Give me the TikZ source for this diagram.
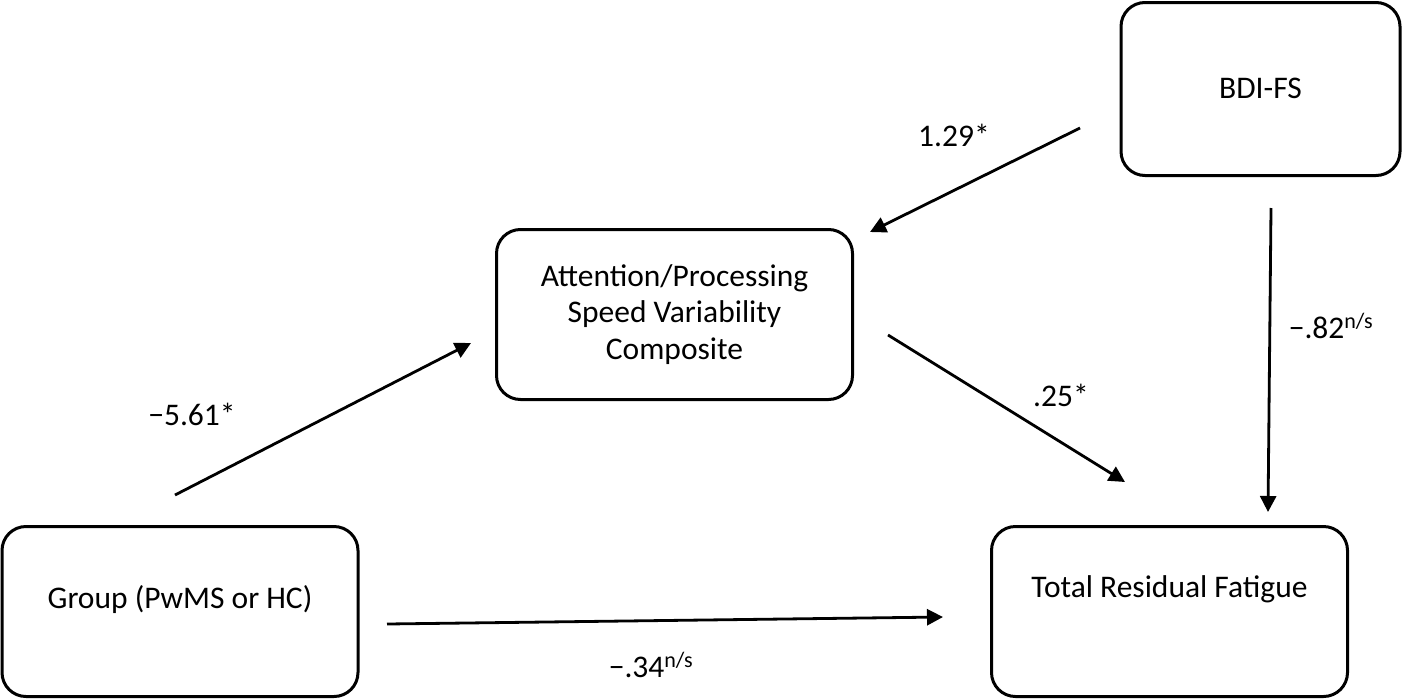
\documentclass[tikz,border=0pt]{standalone}
\usepackage{fontspec}
\setmainfont{Carlito}
\usetikzlibrary{ % tikz packages
    positioning,arrows.meta
}
\tikzset{varbox/.style={
    draw,
    line width=3pt,
    rounded corners=24pt,
    minimum width=356pt,
    minimum height=170pt,
    inner sep=0pt,
    align=center
}}
\tikzset{effect/.style={->,line width=2.8pt}}
\tikzset{>={Triangle[length=16pt,width=16pt]}}

\begin{document}
\begin{tikzpicture}[x=1pt,y=-1pt,on grid,font=\fontsize{31.5}{36.5}\selectfont]
        \useasboundingbox (0,0) rectangle (1404,699);

        \node[varbox,text height=22pt,text depth=29pt] (group) at (180,611.5) {Group (PwMS or HC)};
        \node[varbox] (attn) [above right=297pt and 494.5pt of group] {Attention/Processing\\Speed Variability\\Composite};
        \node[varbox,text height=22pt,text depth=50pt] (fatigue) [right=989.5pt of group] {Total Residual Fatigue};
        \node[varbox,minimum width=279pt,minimum height=173pt,text height=18pt,text depth=0pt] (bdi) [above right=522.5pt and 91pt of fatigue] {BDI-FS};

        % free ends of the paths
        \coordinate (group-a) at (175,495);
        \coordinate (attn-g) at (471,343);
        \coordinate (bdi-a) at (1080,128);
        \coordinate (attn-b) at (870,232);
        \coordinate (attn-f) at (888,335);
        \coordinate (fatigue-a) at (1125,482);
        \coordinate (bdi-f) at (1271,208);
        \coordinate (fatigue-b) at (1268,512);
        \coordinate (group-f) at (387,624);
        \coordinate (fatigue-g) at (943,617);

        \path[effect]
            (group-a)
                edge (attn-g)
            (bdi-a)
                edge (attn-b)
            (attn-f)
                edge (fatigue-a)
            (bdi-f)
                edge (fatigue-b)
            (group-f)
                edge (fatigue-g);

        \node[anchor=base] (a) at (192,425) {−5.61*};
        \node[anchor=base] (b) at (954,146) {1.29*};
        \node[anchor=base] (c) at (1061,406) {.25*};
        \node[anchor=base] (cp) at (1331,338) {−.82\textsuperscript{n/s}};
        \node[anchor=base] (b2) at (651,677) {−.34\textsuperscript{n/s}};
    \end{tikzpicture}
\end{document}
